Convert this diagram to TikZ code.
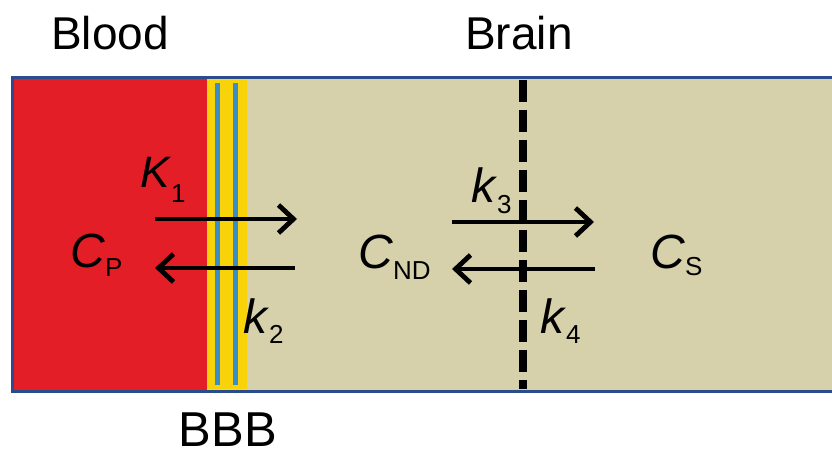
\documentclass[tikz,border=0pt]{standalone}
\usepackage{fontspec}
\setmainfont{Liberation Sans}
\usetikzlibrary{arrows.meta, positioning}
\definecolor{cBlood}{HTML}{E41E26}
\definecolor{cBrain}{HTML}{D6D1AB}
\definecolor{cEdge} {HTML}{2B4C8C}
\definecolor{cYel}  {HTML}{F8D30A}
\definecolor{cBlue} {HTML}{3A8DC6}
\newcommand{\symsub}[3]{\textit{#1}\raisebox{-#3}{\fontsize{26}{26}\selectfont #2}}

\begin{document}
\begin{tikzpicture}[x=1pt, y=-1pt,
        region/.style = {font=\fontsize{46}{50}\selectfont, anchor=base, inner sep=0pt},
        qty/.style = {font=\fontsize{48}{50}\selectfont, anchor=base west, inner sep=0pt},
        flux/.style = {line width=4.8pt, -{Straight Barb[length=15pt, width=28pt, line width=4.8pt]}} ]
      \useasboundingbox (0,0) rectangle (832,457);
      % compartments
      \fill[cBrain] (12,78) rectangle (832,391);
      \fill[cBlood] (12,78) rectangle (207,391);
      \fill[cYel] (207,80) rectangle (247,389);
      \fill[cBlue] (214.5,83) rectangle (219.5,385);
      \fill[cBlue] (232.5,83) rectangle (237.5,385);
      \draw[cEdge, line width=3pt] (832,78) -- (12,78) -- (12,391) -- (832,391);
      \draw[line width=8pt, dash pattern=on 22pt off 8pt] (523,80) -- (523,389);
      % labels
      \node[region] (blood) at (110,50) {Blood};
      \node[region] (brain) at (519,50) {Brain};
      \node[region, font=\fontsize{49}{52}\selectfont] (bbb) at (228,446) {BBB};
      \node[qty] (cp)  at (70,267)  {\symsub{C}{P}{9pt}};
      \node[qty] (cnd) at (358,268) {\symsub{C}{ND}{11pt}};
      \node[qty] (cs)  at (650,268) {\symsub{C}{S}{7pt}};
      \node[qty, font=\fontsize{44}{48}\selectfont] (K1) at (140,187) {\symsub{K}{1}{15pt}};
      \node[qty] (k2) at (243,333) {\symsub{k}{2}{10pt}};
      \node[qty] (k3) at (471,203) {\symsub{k}{3}{10pt}};
      \node[qty] (k4) at (540,333) {\symsub{k}{4}{10pt}};
      % exchange arrows
      \coordinate (a1) at (155,219);  \coordinate (b1) at (297,219);
      \coordinate (a2) at (295,268);  \coordinate (b2) at (155,268);
      \coordinate (a3) at (452,222);  \coordinate (b3) at (594,222);
      \coordinate (a4) at (595,269);  \coordinate (b4) at (452,269);
      \draw[flux] (a1) -- (b1);
      \draw[flux] (a2) -- (b2);
      \draw[flux] (a3) -- (b3);
      \draw[flux] (a4) -- (b4);
    \end{tikzpicture}
\end{document}
